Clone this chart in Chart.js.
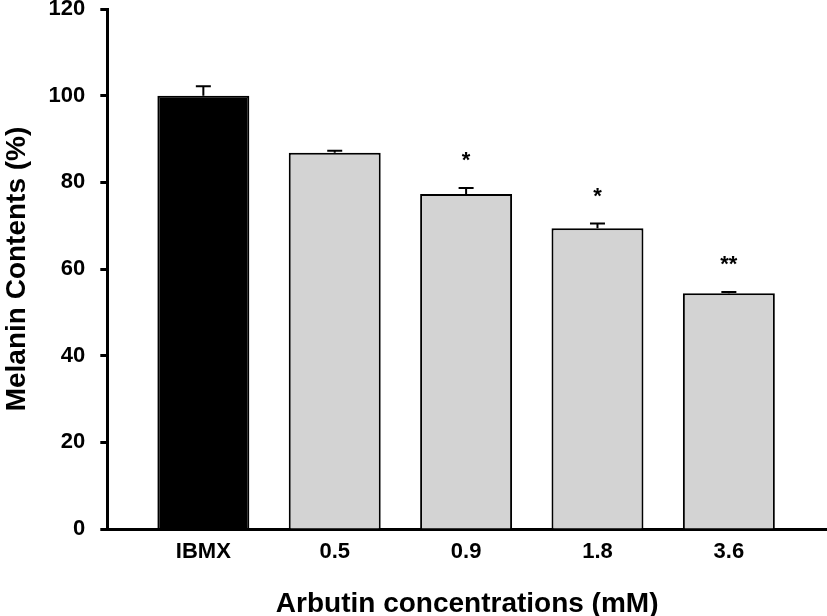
<!DOCTYPE html>
<html><head><meta charset="utf-8">
<script src="https://cdn.jsdelivr.net/npm/chart.js@4/dist/chart.umd.min.js"></script>
<style>html,body{margin:0;padding:0;background:#fff}#wrap{width:827px;height:616px}</style>
</head><body><div id="wrap"><canvas id="c" width="827" height="616"></canvas></div>
<script>
const categories = ["IBMX", "0.5", "0.9", "1.8", "3.6"];
const melanin = [100, 86.8, 77.3, 69.4, 54.4];
const sem = [2.2, 0.5, 1.4, 1.1, 0.3];
const significance = ["", "", "*", "*", "**"];
const yTicks = [0, 20, 40, 60, 80, 100, 120];
const barColors = ["#000000", "#d3d3d3", "#d3d3d3", "#d3d3d3", "#d3d3d3"];

const FONT = "'Liberation Sans', Arial, Helvetica, sans-serif";

const errPlugin = {
  id: 'errbars',
  afterDatasetsDraw(chart) {
    const ctx = chart.ctx, xs = chart.scales.x, ys = chart.scales.y;
    ctx.save();
    ctx.strokeStyle = '#000';
    ctx.lineWidth = 2;
    ctx.fillStyle = '#000';
    ctx.font = "bold 22px " + FONT;
    ctx.textAlign = 'center';
    ctx.textBaseline = 'middle';
    melanin.forEach((v, i) => {
      const x = xs.getPixelForValue(i);
      const y0 = ys.getPixelForValue(v);
      const y1 = ys.getPixelForValue(v + sem[i]);
      ctx.beginPath();
      ctx.moveTo(x, y0); ctx.lineTo(x, y1);
      ctx.moveTo(x - 7.5, y1); ctx.lineTo(x + 7.5, y1);
      ctx.stroke();
      if (significance[i]) {
        ctx.fillText(significance[i], x, y1 - 27);
      }
    });
    ctx.restore();
  }
};

new Chart(document.getElementById('c'), {
  type: 'bar',
  data: {
    datasets: [{
      data: melanin.map((v, i) => ({x: i, y: v})),
      backgroundColor: barColors,
      borderColor: '#000',
      borderWidth: 2,
      borderSkipped: 'bottom',
      categoryPercentage: 1,
      barPercentage: 0.70
    }]
  },
  options: {
    responsive: false,
    animation: false,
    devicePixelRatio: 1,
    layout: {padding: {top: 0, right: 0, left: 0, bottom: -5}},
    plugins: {legend: {display: false}, tooltip: {enabled: false}},
    scales: {
      x: {
        type: 'linear',
        offset: false,
        min: -0.731,
        max: 4.747,
        afterBuildTicks(scale) { scale.ticks = categories.map((_, i) => ({value: i})); },
        ticks: {
          callback: (v) => categories[v],
          color: '#000',
          font: {family: FONT, size: 22, weight: 'bold'},
          padding: 2,
          maxRotation: 0,
          autoSkip: false
        },
        grid: {display: false},
        border: {display: true, color: '#000', width: 3},
        title: {
          display: true,
          text: 'Arbutin concentrations (mM)',
          color: '#000',
          font: {family: FONT, size: 28, weight: 'bold'},
          padding: {top: 20, bottom: 0}
        }
      },
      y: {
        min: 0,
        max: 120,
        afterBuildTicks(scale) { scale.ticks = yTicks.map(v => ({value: v})); },
        afterFit(scale) { scale.paddingTop = 9; scale.paddingBottom = 0; },
        ticks: {
          color: '#000',
          font: {family: FONT, size: 22, weight: 'bold'},
          padding: 15
        },
        grid: {drawOnChartArea: false, drawTicks: true, tickLength: 7, tickWidth: 3, tickColor: '#000'},
        border: {display: true, color: '#000', width: 3},
        title: {
          display: true,
          text: 'Melanin Contents (%)',
          color: '#000',
          font: {family: FONT, size: 28, weight: 'bold'},
          padding: {top: 0, bottom: 0}
        }
      }
    }
  },
  plugins: [errPlugin]
});
</script></body></html>
